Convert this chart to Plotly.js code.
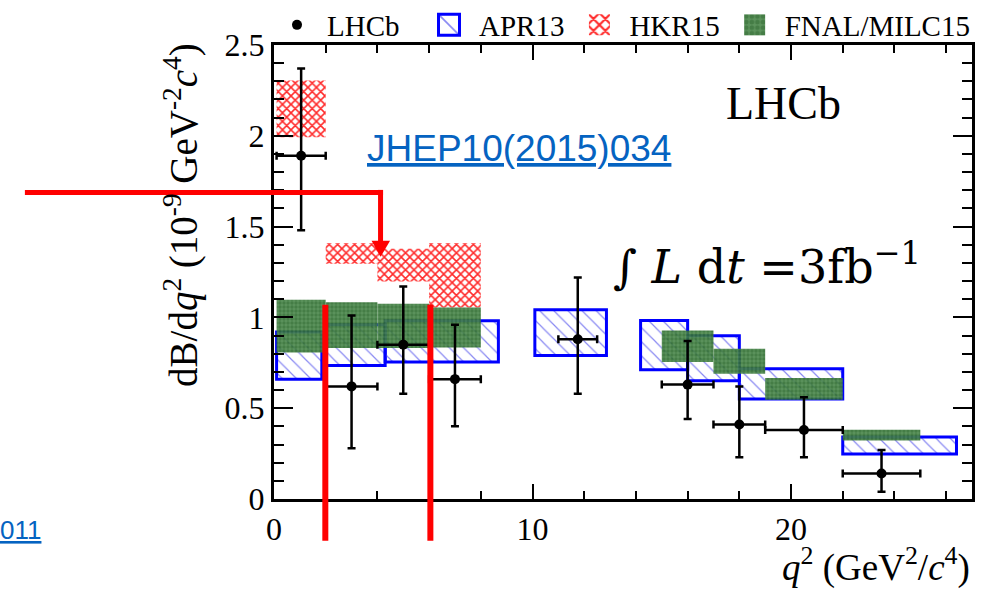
<!DOCTYPE html>
<html>
<head>
<meta charset="utf-8">
<script src="https://cdn.plot.ly/plotly-3.0.1.min.js"></script>
<style>html,body{margin:0;padding:0;background:#fff;}#chart{width:986px;height:592px;}</style>
</head>
<body>
<div id="chart"></div>
<script>
// ---- LHCb measurement (10^-9 GeV^-2 c^4) ----
const lhcbLo = [0.1, 2, 4, 6, 11, 15, 17, 19, 22];
const lhcbHi = [2, 4, 6, 8, 12.5, 17, 19, 22, 25];
const lhcbQ2 = [1.05, 3.0, 5.0, 7.0, 11.75, 16.0, 18.0, 20.5, 23.5];
const lhcbVal = [1.89, 0.62, 0.85, 0.66, 0.88, 0.63, 0.41, 0.38, 0.14];
const lhcbErrUp = [0.48, 0.39, 0.32, 0.30, 0.34, 0.24, 0.21, 0.18, 0.13];
const lhcbErrDown = [0.41, 0.34, 0.27, 0.26, 0.30, 0.19, 0.18, 0.15, 0.10];

// ---- APR13 prediction ----
const aprLo = [0.1, 2, 4.3, 10.09, 14.18, 16, 18, 22];
const aprHi = [1.85, 4.3, 8.68, 12.86, 16, 18, 22, 26.4];
const aprMin = [0.66, 0.735, 0.754, 0.79, 0.712, 0.651, 0.55, 0.248];
const aprMax = [0.919, 0.959, 0.981, 1.042, 0.983, 0.899, 0.717, 0.341];

// ---- HKR15 prediction ----
const hkrLo = [0.1, 2, 4, 6];
const hkrHi = [2, 4, 6, 8];
const hkrMin = [1.992, 1.295, 1.198, 1.055];
const hkrMax = [2.304, 1.409, 1.378, 1.409];

// ---- FNAL/MILC15 prediction ----
const fnalLo = [0.1, 2, 4, 6, 15, 17, 19, 22];
const fnalHi = [2, 4, 6, 8, 17, 19, 22, 25];
const fnalMin = [0.807, 0.831, 0.831, 0.834, 0.754, 0.69, 0.546, 0.322];
const fnalMax = [1.097, 1.084, 1.075, 1.055, 0.928, 0.827, 0.666, 0.381];

// ---- labels ----
const legendNames = ['LHCb', 'APR13', 'HKR15', 'FNAL/MILC15'];
const xTitle = '<i>q</i><sup>2</sup> (GeV<sup>2</sup>/<i>c</i><sup>4</sup>)';
const yTitle = 'dB/d<i>q</i><sup>2</sup> (10<sup>-9</sup> GeV<sup>-2</sup><i>c</i><sup>4</sup>)';

// pixel -> paper helpers for overlay placement
const W = 986, H = 592, ML = 274, MR = 14.3, MT = 45, MB = 92.7;
const PW = W - ML - MR, PH = H - MT - MB;
const px = x => (x - ML) / PW;
const py = y => (H - MB - y) / PH;

function boxTrace(name, lo, hi, mn, mx, style) {
  return Object.assign({
    type: 'bar', name: name,
    x: lo.map((l, i) => (l + hi[i]) / 2),
    width: lo.map((l, i) => hi[i] - l),
    base: mn,
    y: mx.map((m, i) => m - mn[i]),
    hoverinfo: 'skip'
  }, style);
}

const lhcb = {
  type: 'scatter', mode: 'markers', name: legendNames[0] + '\u00a0\u00a0',
  x: lhcbQ2, y: lhcbVal,
  marker: {color: 'black', size: 10},
  error_y: {type: 'data', symmetric: false, array: lhcbErrUp, arrayminus: lhcbErrDown, color: 'black', thickness: 2.5, width: 4},
  error_x: {type: 'data', symmetric: false,
    array: lhcbHi.map((h, i) => h - lhcbQ2[i]),
    arrayminus: lhcbQ2.map((q, i) => q - lhcbLo[i]),
    color: 'black', thickness: 2.5, width: 4}
};

const apr = boxTrace(legendNames[1], aprLo, aprHi, aprMin, aprMax, {
  marker: {color: '#8888f2', line: {color: '#0000ff', width: 3},
    pattern: {shape: '\\', size: 10, solidity: 0.12, fillmode: 'replace'}}
});
const hkr = boxTrace(legendNames[2], hkrLo, hkrHi, hkrMin, hkrMax, {
  marker: {color: '#ff2a2a', line: {width: 0},
    pattern: {shape: 'x', size: 6, solidity: 0.45, fillmode: 'replace'}}
});
const fnal = boxTrace(legendNames[3], fnalLo, fnalHi, fnalMin, fnalMax, {
  opacity: 0.9,
  marker: {color: '#4b884b', line: {width: 0},
    pattern: {shape: '.', size: 4, solidity: 0.55, fgcolor: '#17561a', bgcolor: '#4b884b', fillmode: 'overlay'}}
});

const serif = 'Liberation Serif, Times New Roman, serif';
const linkBlue = '#0563C1';

const layout = {
  width: W, height: H,
  margin: {l: ML, r: MR, t: MT, b: MB, pad: 0, autoexpand: false},
  paper_bgcolor: 'white', plot_bgcolor: 'white',
  barmode: 'overlay',
  showlegend: true,
  legend: {
    orientation: 'h', x: px(267), xanchor: 'left', y: py(25), yanchor: 'middle',
    font: {family: serif, size: 29, color: 'black'},
    itemwidth: 50,
    bgcolor: 'rgba(0,0,0,0)', borderwidth: 0, traceorder: 'normal'
  },
  xaxis: {
    range: [0, 27], showline: true, linewidth: 3, linecolor: 'black', mirror: 'allticks',
    ticks: 'inside', ticklen: 15, tickwidth: 2, tickcolor: 'black', tick0: 0, dtick: 10,
    minor: {ticks: 'inside', dtick: 2, ticklen: 8, tickwidth: 2, tickcolor: 'black', showgrid: false},
    showgrid: false, zeroline: false,
    tickfont: {family: serif, size: 32, color: 'black'}
  },
  yaxis: {
    range: [0, 2.5], showline: true, linewidth: 3, linecolor: 'black', mirror: 'allticks',
    ticks: 'inside', ticklen: 19, tickwidth: 2, tickcolor: 'black', tick0: 0, dtick: 0.5,
    minor: {ticks: 'inside', dtick: 0.1, ticklen: 10, tickwidth: 2, tickcolor: 'black', showgrid: false},
    showgrid: false, zeroline: false,
    tickfont: {family: serif, size: 32, color: 'black'}
  },
  annotations: [
    {text: 'LHCb', xref: 'paper', yref: 'paper', x: px(783.5), y: py(104), xanchor: 'center', yanchor: 'middle',
      showarrow: false, font: {family: serif, size: 46, color: 'black'}},
    {text: xTitle, xref: 'paper', yref: 'paper', x: px(972), y: py(591), xanchor: 'right', yanchor: 'bottom',
      showarrow: false, font: {family: serif, size: 37, color: 'black'}},
    {text: yTitle, xref: 'paper', yref: 'paper', x: px(181), y: py(41), xanchor: 'center', yanchor: 'top',
      textangle: -90, showarrow: false, font: {family: serif, size: 39, color: 'black'}},
    {text: '<u>JHEP10(2015)034</u>', xref: 'paper', yref: 'paper', x: px(365), y: py(149), xanchor: 'left', yanchor: 'middle',
      showarrow: false, font: {family: 'Liberation Sans, Arial, sans-serif', size: 37, color: linkBlue}},
    {text: '<u>011</u>', xref: 'paper', yref: 'paper', x: px(43), y: py(530), xanchor: 'right', yanchor: 'middle',
      showarrow: false, font: {family: 'Liberation Sans, Arial, sans-serif', size: 26, color: linkBlue}},
    {text: '\u222B <i>L</i> d<i>t</i> =3fb<sup>\u22121</sup>', xref: 'paper', yref: 'paper', x: px(767), y: py(264),
      xanchor: 'center', yanchor: 'middle', showarrow: false,
      font: {family: 'DejaVu Serif, serif', size: 46, color: 'black'}}
  ],
  shapes: [
    {type: 'line', xref: 'paper', yref: 'paper', x0: px(25), x1: px(383), y0: py(192.5), y1: py(192.5),
      line: {color: '#ff0000', width: 5}, layer: 'above'},
    {type: 'line', xref: 'paper', yref: 'paper', x0: px(380.5), x1: px(380.5), y0: py(190), y1: py(244),
      line: {color: '#ff0000', width: 5}, layer: 'above'},
    {type: 'path', xref: 'paper', yref: 'paper',
      path: 'M ' + px(371.5) + ' ' + py(241) + ' L ' + px(390) + ' ' + py(241) + ' L ' + px(380.5) + ' ' + py(257) + ' Z',
      fillcolor: '#ff0000', line: {width: 0}, layer: 'above'},
    {type: 'line', xref: 'paper', yref: 'paper', x0: px(325.3), x1: px(325.3), y0: py(305), y1: py(541),
      line: {color: '#ff0000', width: 6}, layer: 'above'},
    {type: 'line', xref: 'paper', yref: 'paper', x0: px(430.3), x1: px(430.3), y0: py(305), y1: py(541),
      line: {color: '#ff0000', width: 6}, layer: 'above'}
  ]
};

Plotly.newPlot('chart', [lhcb, apr, hkr, fnal], layout, {staticPlot: true, displayModeBar: false}).then(function (gd) {
  // enlarge the square legend swatches of the box traces (keep Plotly's own translate)
  gd.querySelectorAll('.legend .legendpoints path').forEach(function (p) {
    const d = p.getAttribute('d') || '';
    if (d.indexOf('M6,6H-6V-6H6Z') === 0) {
      const sw = parseFloat(p.style.strokeWidth || '0');
      if (sw > 0) p.style.strokeWidth = (sw / 1.75) + 'px';
      const t = p.getAttribute('transform') || '';
      p.setAttribute('transform', t + ' scale(1.75)');
    }
  });
});
</script>
</body>
</html>
